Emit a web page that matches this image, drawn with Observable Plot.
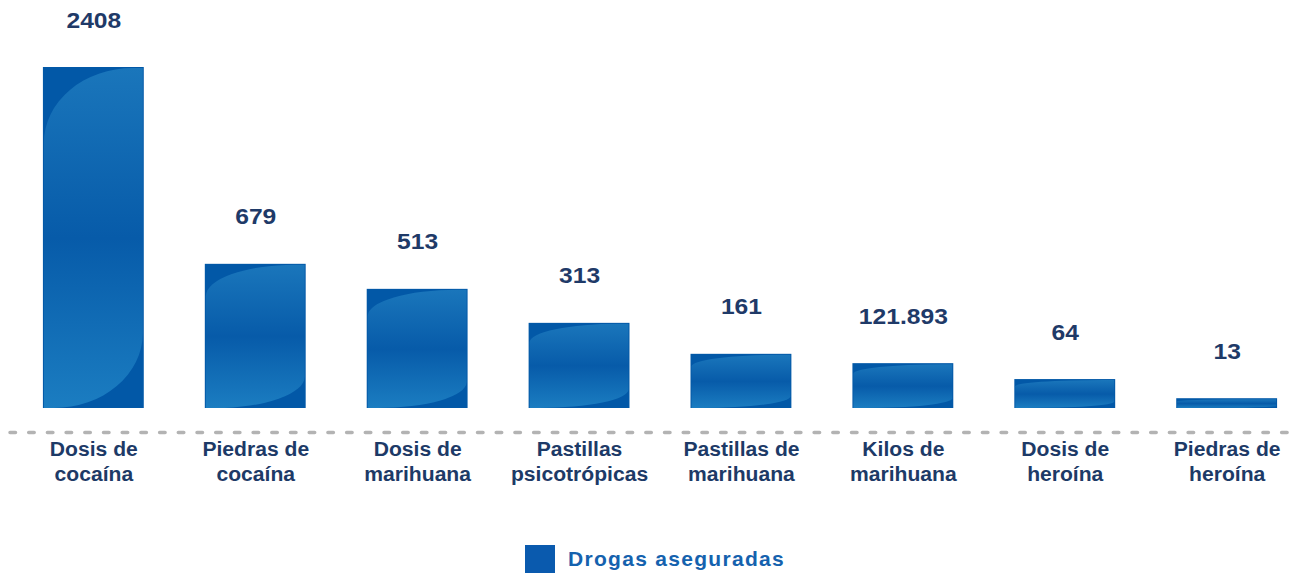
<!DOCTYPE html>
<html><head><meta charset="utf-8">
<script src="https://cdn.jsdelivr.net/npm/d3@7"></script>
<script src="https://cdn.jsdelivr.net/npm/@observablehq/plot@0.6"></script>
<style>
body{margin:0;background:#fff;font-family:"Liberation Sans",Arial,sans-serif;width:1300px;height:574px;overflow:hidden;}
#legend{display:flex;align-items:center;justify-content:center;height:39px;padding-top:4px;padding-left:10px;}
#legend .sw{display:inline-block;width:30px;height:28px;background:#0a5aae;margin-right:13px;}
#legend .tx{font-size:21px;font-weight:bold;color:#1562ae;letter-spacing:1.3px;}
</style>
</head><body>
<div id="chart"></div>
<div id="legend"><span class="sw"></span><span class="tx"></span></div>
<script>
const categories = ["Dosis de cocaína","Piedras de cocaína","Dosis de marihuana","Pastillas psicotrópicas","Pastillas de marihuana","Kilos de marihuana","Dosis de heroína","Piedras de heroína"];
const tickLabels = ["Dosis de\ncocaína","Piedras de\ncocaína","Dosis de\nmarihuana","Pastillas\npsicotrópicas","Pastillas de\nmarihuana","Kilos de\nmarihuana","Dosis de\nheroína","Piedras de\nheroína"];
const values = [2408, 679, 513, 313, 161, 121.893, 64, 13];
const valueLabels = ["2408","679","513","313","161","121.893","64","13"];
const seriesName = "Drogas aseguradas";

const data = categories.map((c, i) => ({category: c, value: values[i], label: valueLabels[i]}));

function highlight(index, scales, vals, dimensions, context, next) {
  const g = next(index, scales, vals, dimensions, context);
  d3.select(g).selectAll("rect").each(function() {
    const x0 = +this.getAttribute("x"), y0 = +this.getAttribute("y");
    const w = +this.getAttribute("width"), h = +this.getAttribute("height");
    const x1 = x0 + w, y1 = y0 + h;
    const rx = 0.9 * w, ry = 0.22 * h;
    const p = document.createElementNS("http://www.w3.org/2000/svg", "path");
    p.setAttribute("d",
      `M${x0},${y0 + ry} A${rx},${ry} 0 0 1 ${x0 + rx},${y0} L${x1},${y0} L${x1},${y1 - ry} A${rx},${ry} 0 0 1 ${x1 - rx},${y1} L${x0},${y1} Z`);
    p.setAttribute("fill", "url(#hlGrad)");
    this.parentNode.insertBefore(p, this);
    this.remove();
  });
  return g;
}

// widen text horizontally about its anchor point (texts are placed by translate)
function stretch(s) {
  return function(index, scales, vals, dimensions, context, next) {
    const g = next(index, scales, vals, dimensions, context);
    d3.select(g).selectAll("text").each(function() {
      const t = this.getAttribute("transform") || "";
      this.setAttribute("transform", `${t} scale(${s},1)`);
    });
    return g;
  };
}

const chart = Plot.plot({
  width: 1300,
  height: 535,
  marginLeft: 20,
  marginRight: 0,
  marginTop: 67,
  marginBottom: 127,
  style: {fontFamily: "'Liberation Sans', Arial, sans-serif", fontSize: "20px", background: "#fff"},
  x: {domain: categories, paddingInner: 0.377, paddingOuter: 0.1415, round: false, label: null},
  y: {type: "pow", exponent: 0.68, domain: [0, 2408], axis: null, nice: false},
  marks: [
    Plot.ruleY([0], {stroke: "#b3b3b3", strokeWidth: 3.5, strokeDasharray: "5.5,13.2", strokeLinecap: "round", dy: 24, insetLeft: -10}),
    Plot.barY(data, {x: "category", y: "value", fill: "#0258a7"}),
    Plot.barY(data, {x: "category", y: "value", fill: "url(#hlGrad)", insetLeft: 1, insetRight: 1, insetTop: 1, render: highlight}),
    Plot.text(data, {x: "category", y: "value", text: "label", dy: -47, fontSize: 22, fontWeight: "bold", fill: "#1f3a68", render: stretch(1.12)}),
    Plot.axisX({tickSize: 0, tickPadding: 30, tickFormat: d => tickLabels[categories.indexOf(d)], fontSize: 20.5, fontWeight: "bold", color: "#1d3a67", lineHeight: 1.22, label: null, render: stretch(1.03)})
  ]
});

const defs = d3.create("svg:defs");
const grad = defs.append("linearGradient").attr("id", "hlGrad").attr("x1", 0).attr("y1", 0).attr("x2", 0).attr("y2", 1);
grad.append("stop").attr("offset", "0%").attr("stop-color", "#1a76bb");
grad.append("stop").attr("offset", "50%").attr("stop-color", "#075ba9");
grad.append("stop").attr("offset", "100%").attr("stop-color", "#1b7dc1");
chart.insertBefore(defs.node(), chart.firstChild);

document.getElementById("chart").appendChild(chart);
document.querySelector("#legend .tx").textContent = seriesName;
</script>
</body></html>
